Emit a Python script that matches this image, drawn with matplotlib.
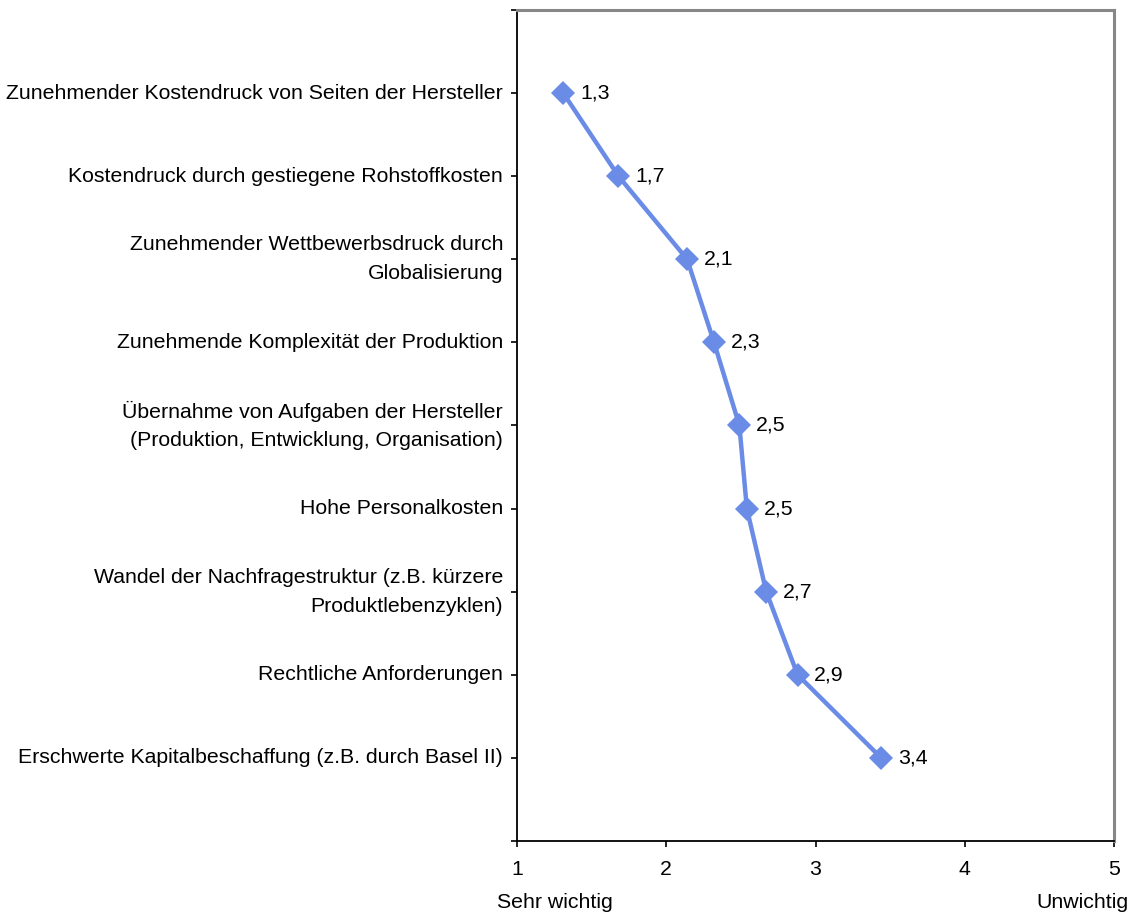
import matplotlib
matplotlib.use("Agg")
import matplotlib.pyplot as plt

categories = [
    "Zunehmender Kostendruck von Seiten der Hersteller",
    "Kostendruck durch gestiegene Rohstoffkosten",
    "Zunehmender Wettbewerbsdruck durch\nGlobalisierung",
    "Zunehmende Komplexität der Produktion",
    "Übernahme von Aufgaben der Hersteller\n(Produktion, Entwicklung, Organisation)",
    "Hohe Personalkosten",
    "Wandel der Nachfragestruktur (z.B. kürzere\nProduktlebenzyklen)",
    "Rechtliche Anforderungen",
    "Erschwerte Kapitalbeschaffung (z.B. durch Basel II)",
]
values = [1.31, 1.68, 2.14, 2.32, 2.49, 2.54, 2.67, 2.88, 3.44]
x_ticks = [1, 2, 3, 4, 5]
x_end_labels = ["Sehr wichtig", "Unwichtig"]

plt.rcParams['font.family'] = ['Liberation Sans', 'DejaVu Sans']
FS = 15.3
color = '#6A8BE6'

W, H = 1135, 916
fig = plt.figure(figsize=(W / 100, H / 100), dpi=100)
ax = fig.add_axes([517 / W, 1 - 841 / H, (1114 - 517) / W, (841 - 10) / H])

n = len(categories)
ypos = [n - i for i in range(n)]  # 9 .. 1
ax.plot(values, ypos, color=color, lw=3.2, marker='D', markersize=12,
        markeredgewidth=0, zorder=3, clip_on=False)
for v, y in zip(values, ypos):
    ax.annotate(f"{v:.1f}".replace('.', ','), (v, y), xytext=(12, 0),
                textcoords='offset points', ha='left', va='center', fontsize=FS)

ax.set_xlim(1, 5)
ax.set_ylim(0, n + 1)
ax.set_xticks(x_ticks)
ax.set_xticklabels([str(t) for t in x_ticks], fontsize=FS)
ax.set_yticks(range(0, n + 2))
ax.set_yticklabels([""] + categories[::-1] + [""], fontsize=FS, ha='right', va='center',
                   multialignment='right', linespacing=1.64)
ax.tick_params(axis='y', direction='out', length=4.5, width=1.2, pad=5.5, color='black')
ax.tick_params(axis='x', direction='out', length=4, width=1.2, pad=10, color='black')

for s in ['left', 'bottom']:
    ax.spines[s].set_color('black')
    ax.spines[s].set_linewidth(1.3)
for s in ['top', 'right']:
    ax.spines[s].set_color('#878787')
    ax.spines[s].set_linewidth(2.2)

fig.text(555 / W, 1 - 903 / H, x_end_labels[0], ha='center', va='center', fontsize=FS)
fig.text(1128 / W, 1 - 903 / H, x_end_labels[1], ha='right', va='center', fontsize=FS)

fig.savefig("out.png", dpi=100)
